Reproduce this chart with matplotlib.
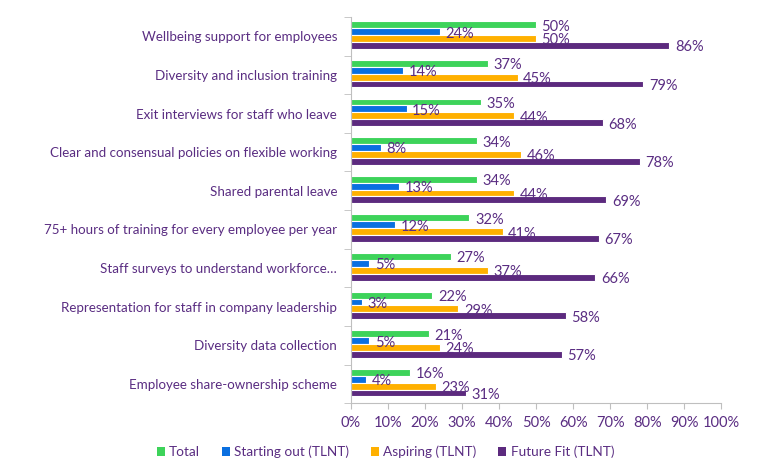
import numpy as np
from matplotlib import pyplot as plt
from matplotlib.patches import Patch

categories = [
    "Wellbeing support for employees",
    "Diversity and inclusion training",
    "Exit interviews for staff who leave",
    "Clear and consensual policies on flexible working",
    "Shared parental leave",
    "75+ hours of training for every employee per year",
    "Staff surveys to understand workforce\u2026",
    "Representation for staff in company leadership",
    "Diversity data collection",
    "Employee share-ownership scheme",
]
total = [50, 37, 35, 34, 34, 32, 27, 22, 21, 16]
starting = [24, 14, 15, 8, 13, 12, 5, 3, 5, 4]
aspiring = [50, 45, 44, 46, 44, 41, 37, 29, 24, 23]
future = [86, 79, 68, 78, 69, 67, 66, 58, 57, 31]

series = [
    ("Total", total, "#3dd35a"),
    ("Starting out (TLNT)", starting, "#0a6fe0"),
    ("Aspiring (TLNT)", aspiring, "#ffb000"),
    ("Future Fit (TLNT)", future, "#5c2a7e"),
]

txt = "#5a2d82"
plt.rcParams['font.family'] = ['Lato', 'DejaVu Sans']

fig = plt.figure(figsize=(7.68, 4.71), dpi=100)
ax = fig.add_axes([0.457, 0.144, 0.482, 0.820])

n = len(categories)
y = np.arange(n)
h = 0.178
for k, (name, vals, col) in enumerate(series):
    pos = y - 1.5 * h + k * h - 0.03
    ax.barh(pos, vals, height=h, color=col, edgecolor="white", linewidth=0.8)
    for p, v in zip(pos, vals):
        ax.text(v + 1.5, p + 0.05, f"{v}%", color=txt, fontsize=10.5, va="center", ha="left")

ax.set_xlim(0, 100)
ax.set_ylim(n - 0.5, -0.5)
ax.set_xticks(np.arange(0, 101, 10))
ax.set_xticklabels([f"{t}%" for t in range(0, 101, 10)], color=txt, fontsize=10.5)
ax.set_yticks(y)
ax.set_yticklabels(categories, color=txt, fontsize=9.6)
ax.tick_params(axis="y", length=0, pad=10)
ax.set_yticks(np.arange(-0.5, n, 1), minor=True)
ax.tick_params(axis="y", which="minor", length=5, color="#bfbfbf")
ax.tick_params(axis="x", length=4, color="#bfbfbf", pad=5)
for s in ["top", "right"]:
    ax.spines[s].set_visible(False)
for s in ["left", "bottom"]:
    ax.spines[s].set_color("#bfbfbf")

handles = [Patch(facecolor=c, label=nm) for nm, _, c in series]
leg = fig.legend(handles=handles, loc="center", bbox_to_anchor=(0.502, 0.04), ncol=4,
                 frameon=False, handlelength=0.6, handleheight=0.6, handletextpad=0.3,
                 columnspacing=1.6, fontsize=9.8)
for t in leg.get_texts():
    t.set_color(txt)

fig.savefig("out.png", dpi=100)
